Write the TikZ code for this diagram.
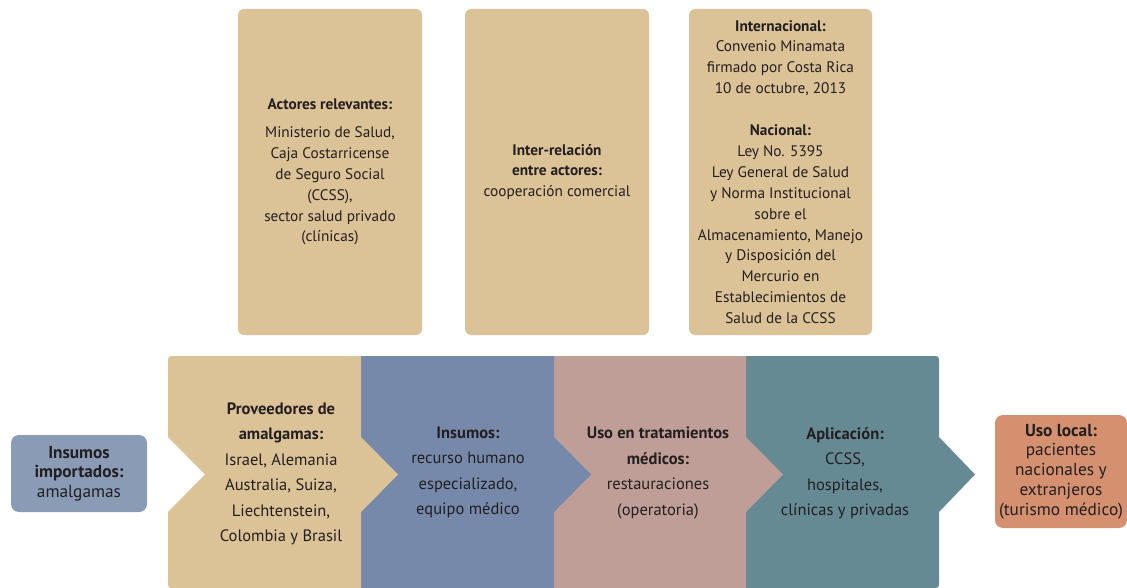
\documentclass[tikz,border=0pt]{standalone}
\usepackage{fontspec}
\setmainfont{PT Sans}
\definecolor{tanc}{HTML}{DCC297}
\definecolor{bluec}{HTML}{7689AA}
\definecolor{pinkc}{HTML}{BE9E97}
\definecolor{tealc}{HTML}{658A93}
\definecolor{lbluec}{HTML}{8A9BB6}
\definecolor{orangec}{HTML}{D4906F}
\definecolor{txt}{HTML}{231F20}
\tikzset{
  topbox/.style={fill=tanc, rounded corners=6pt, minimum width=184pt, minimum height=326pt, inner sep=0pt, align=center, text=txt, font=\fontsize{15.3}{20.9}\selectfont},
  sidebox/.style={rounded corners=8pt, inner sep=0pt, align=center, text=txt, font=\fontsize{17.3}{19.7}\selectfont},
  segtext/.style={inner sep=0pt, align=center, text=txt, font=\fontsize{16.5}{25.5}\selectfont},
}
\begin{document}
\begin{tikzpicture}[x=1pt,y=-1pt]
\useasboundingbox (0,0) rectangle (1127,588);
% top boxes
\node[topbox] (actores) at (330,172) {\textbf{Actores relevantes:}\\[7pt]Ministerio de Salud,\\Caja Costarricense\\de Seguro Social\\(CCSS),\\sector salud privado\\(clínicas)};
\node[topbox] (inter) at (557,172) {\textbf{Inter-relación}\\\textbf{entre actores:}\\cooperación comercial};
\node[topbox, minimum width=183pt] (marco) at (780.5,172) {\textbf{Internacional:}\\Convenio Minamata\\firmado por Costa Rica\\10 de octubre, 2013\\[20.9pt]\textbf{Nacional:}\\Ley No. 5395\\Ley General de Salud\\y Norma Institucional\\sobre el\\Almacenamiento, Manejo\\y Disposición del\\Mercurio en\\Establecimientos de\\Salud de la CCSS};
% chevron band
\fill[tealc] (746,356) -- (932,356) .. controls (939,356) .. (939,363) -- (939,437) -- (975,474.5) -- (939,512) -- (939,581) .. controls (939,588) .. (932,588) -- (746,588) -- cycle;
\fill[pinkc] (554,356) -- (746,356) -- (746,437) -- (783,474.5) -- (746,512) -- (746,588) -- (554,588) -- cycle;
\fill[bluec] (361,356) -- (554,356) -- (554,437) -- (591,474.5) -- (554,512) -- (554,588) -- (361,588) -- cycle;
\fill[tanc] (361,356) -- (175,356) .. controls (168,356) .. (168,363) -- (168,437) -- (205,474.5) -- (168,512) -- (168,581) .. controls (168,588) .. (175,588) -- (361,588) -- (361,512) -- (398,474.5) -- (361,437) -- cycle;
\node[segtext] (prov) at (281,474) {\textbf{Proveedores de}\\\textbf{amalgamas:}\\Israel, Alemania\\Australia, Suiza,\\Liechtenstein,\\Colombia y Brasil};
\node[segtext] (insumos) at (468,472.5) {\textbf{Insumos:}\\recurso humano\\especializado,\\equipo médico};
\node[segtext] (uso) at (658,473) {\textbf{Uso en tratamientos}\\\textbf{médicos:}\\restauraciones\\(operatoria)};
\node[segtext] (aplic) at (845,473) {\textbf{Aplicación:}\\CCSS,\\hospitales,\\clínicas y privadas};
% side boxes
\node[sidebox, fill=lbluec, minimum width=136pt, minimum height=77pt] (import) at (79,473.5) {\textbf{Insumos}\\\textbf{importados:}\\amalgamas};
\node[sidebox, fill=orangec, minimum width=132pt, minimum height=113pt] (local) at (1061,471.5) {\textbf{Uso local:}\\pacientes\\nacionales y\\extranjeros\\(turismo médico)};
\end{tikzpicture}
\end{document}
